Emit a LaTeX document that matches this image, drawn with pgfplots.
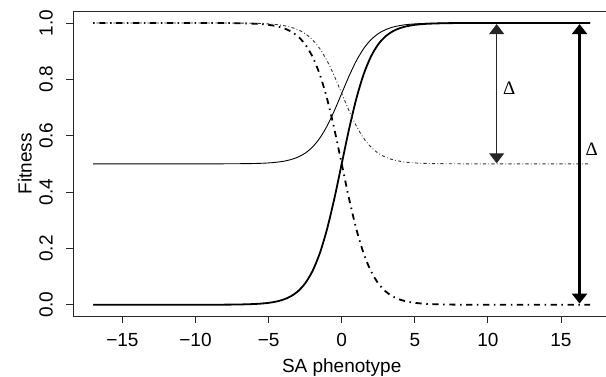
\documentclass[border=0pt]{standalone}
\usepackage{fontspec}
\setmainfont{Liberation Sans}
\newfontfamily\serifD{Liberation Serif}
\usepackage{pgfplots}
\usepackage{pgfplotstable}
\pgfplotsset{compat=1.18}
\usetikzlibrary{arrows.meta}

\pgfplotstableread{
x      a       b       c       d
-17    0.0000  1.0000  0.5000  1.0000
-12    0.0000  1.0000  0.5000  1.0000
-10    0.0000  1.0000  0.5000  1.0000
-8     0.0003  0.9997  0.5002  0.9998
-7     0.0009  0.9991  0.5005  0.9995
-6     0.0025  0.9975  0.5012  0.9988
-5.5   0.0041  0.9959  0.5020  0.9980
-5     0.0067  0.9933  0.5033  0.9967
-4.5   0.0110  0.9890  0.5055  0.9945
-4     0.0180  0.9820  0.5090  0.9910
-3.5   0.0293  0.9707  0.5147  0.9853
-3     0.0474  0.9526  0.5237  0.9763
-2.5   0.0759  0.9241  0.5379  0.9621
-2     0.1192  0.8808  0.5596  0.9404
-1.5   0.1824  0.8176  0.5912  0.9088
-1     0.2689  0.7311  0.6345  0.8655
-0.5   0.3775  0.6225  0.6888  0.8112
0      0.5000  0.5000  0.7500  0.7500
0.5    0.6225  0.3775  0.8112  0.6888
1      0.7311  0.2689  0.8655  0.6345
1.5    0.8176  0.1824  0.9088  0.5912
2      0.8808  0.1192  0.9404  0.5596
2.5    0.9241  0.0759  0.9621  0.5379
3      0.9526  0.0474  0.9763  0.5237
3.5    0.9707  0.0293  0.9853  0.5147
4      0.9820  0.0180  0.9910  0.5090
4.5    0.9890  0.0110  0.9945  0.5055
5      0.9933  0.0067  0.9967  0.5033
5.5    0.9959  0.0041  0.9980  0.5020
6      0.9975  0.0025  0.9988  0.5012
7      0.9991  0.0009  0.9995  0.5005
8      0.9997  0.0003  0.9998  0.5002
10     1.0000  0.0000  1.0000  0.5000
12     1.0000  0.0000  1.0000  0.5000
17     1.0000  0.0000  1.0000  0.5000
}\curves

\begin{document}
\begin{tikzpicture}[font=\fontsize{19}{23}\selectfont]
\begin{axis}[
  scale only axis,
  width=536.8pt, height=304.3pt,
  xmin=-18.36, xmax=18.36, ymin=-0.04, ymax=1.04,
  axis line style={line width=0.9pt, black!85},
  tick style={line width=0.9pt, black!85},
  tick align=outside, tick pos=left,
  major tick length=7pt,
  xtick={-15,-10,-5,0,5,10,15},
  xticklabels={−15,−10,−5,0,5,10,15},
  ytick={0,0.2,0.4,0.6,0.8,1},
  yticklabels={0.0,0.2,0.4,0.6,0.8,1.0},
  xticklabel style={anchor=north, inner sep=0pt, font=\fontsize{19}{23}\selectfont},
  yticklabel style={xshift=-13.3pt, rotate=90, anchor=south, inner sep=0pt, font=\fontsize{19}{23}\selectfont},
  xticklabel shift=10pt,
  yticklabel shift=0pt,
  every axis x label/.style={at={(axis description cs:0.5,0)}, anchor=base, yshift=-56.9pt},
  every axis y label/.style={at={(axis description cs:0,0.5)}, xshift=-41.6pt, rotate=90, anchor=base},
  xlabel={SA phenotype},
  ylabel={Fitness},
  clip=false,
]
\addplot[smooth, line width=1.8pt, black] table[x=x, y=a] {\curves};
\addplot[smooth, line width=1.8pt, black, dash pattern=on 1.5pt off 4.6pt on 6.2pt off 4.6pt] table[x=x, y=b] {\curves};
\addplot[smooth, line width=0.9pt, black] table[x=x, y=c] {\curves};
\addplot[smooth, line width=0.9pt, black!80, dash pattern=on 0.8pt off 2.3pt on 3.1pt off 2.3pt] table[x=x, y=d] {\curves};
\addplot[line width=1.3pt, black!85, {Triangle[width=15pt,length=10pt]}-{Triangle[width=15pt,length=10pt]}] coordinates {(10.6,0.502) (10.6,0.996)};
\addplot[line width=2.7pt, black, {Triangle[width=15pt,length=10pt]}-{Triangle[width=15pt,length=10pt]}] coordinates {(16.27,0.004) (16.27,0.996)};
\node at (axis cs:11.46,0.768) {\serifD Δ};
\node at (axis cs:17.1,0.553) {\serifD Δ};
\coordinate (bl) at (rel axis cs:0,0);
\end{axis}
\pgfresetboundingbox
\useasboundingbox ([shift={(-73.3pt,-60pt)}]bl) rectangle ++(606pt,376pt);
\end{tikzpicture}
\end{document}
